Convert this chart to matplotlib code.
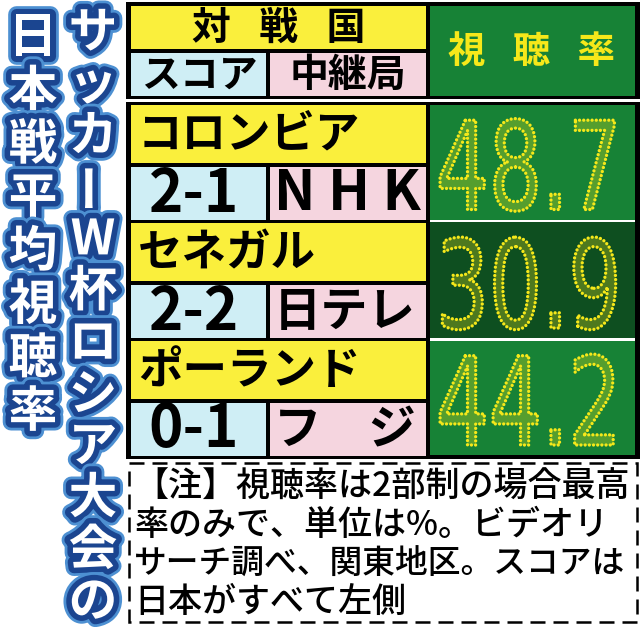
import matplotlib
matplotlib.use('Agg')
import matplotlib.pyplot as plt
from matplotlib.patches import Rectangle
from matplotlib import patheffects as pe
from matplotlib.patheffects import AbstractPathEffect
from matplotlib.transforms import Affine2D

# ---------------- data ----------------
title_main = "日本戦平均視聴率"
title_sub = "サッカーW杯ロシア大会の"
header_opponent = "対戦国"
header_score = "スコア"
header_station = "中継局"
header_rating = "視聴率"
opponents = ["コロンビア", "セネガル", "ポーランド"]
scores = ["2-1", "2-2", "0-1"]
stations = ["N H K", "日テレ", "フ\u3000ジ"]
ratings = [48.7, 30.9, 44.2]
note_lines = ["【注】視聴率は2部制の場合最高",
              "率のみで、単位は%。ビデオリ",
              "サーチ調べ、関東地区。スコアは",
              "日本がすべて左側"]

# ---------------- style ----------------
CJK = ['Noto Sans CJK JP', 'DejaVu Sans']
YELLOW = '#faef3c'
CYAN = '#cfeef5'
PINK = '#f5d5df'
GREEN = '#178236'
GREEN_DARK = '#0e4f20'
RATE_GREENS = [GREEN, GREEN_DARK, GREEN]
TXT_YELLOW = '#f6e81a'


class DotMatrix(AbstractPathEffect):
    """Draw glyph outlines as rows of dots (LED-board look)."""
    def __init__(self, sx=1.0, sy=1.0, color=TXT_YELLOW, lw=2.4, gap=3.0,
                 fill_alpha=0.28):
        super().__init__()
        self.sx, self.sy = sx, sy
        self.color, self.lw, self.gap = color, lw, gap
        self.fill_alpha = fill_alpha

    def draw_path(self, renderer, gc, tpath, affine, rgbFace=None):
        trans = Affine2D().scale(self.sx, self.sy) + affine
        rgb = matplotlib.colors.to_rgba(self.color)
        gcf = renderer.new_gc()
        gcf.copy_properties(gc)
        gcf.set_linewidth(0)
        gcf.set_alpha(self.fill_alpha)
        renderer.draw_path(gcf, tpath, trans,
                           (rgb[0], rgb[1], rgb[2], self.fill_alpha))
        gcf.restore()
        gc0 = renderer.new_gc()
        gc0.copy_properties(gc)
        gc0.set_alpha(1.0)
        gc0.set_foreground(self.color)
        gc0.set_linewidth(self.lw)
        gc0.set_dashes(0, [0.01, self.gap])
        gc0.set_capstyle('round')
        gc0.set_joinstyle('round')
        renderer.draw_path(gc0, tpath, trans, None)
        gc0.restore()


fig = plt.figure(figsize=(6.4, 6.27), dpi=100)
ax = fig.add_axes([0, 0, 1, 1])
ax.set_xlim(0, 640)
ax.set_ylim(627, 0)
ax.axis('off')


def rect(x0, y0, x1, y1, fc, **kw):
    ax.add_patch(Rectangle((x0, y0), x1 - x0, y1 - y0, facecolor=fc,
                           edgecolor='none', **kw))


# ---------------- title (vertical) ----------------
title_fx = [pe.Stroke(linewidth=12, foreground='#4d90d2', joinstyle='round'),
            pe.Stroke(linewidth=8, foreground='#1b4590', joinstyle='round'),
            pe.Normal()]


def vertical(text, xc, y_first, y_last, size):
    n = len(text)
    step = (y_last - y_first) / (n - 1)
    for i, ch in enumerate(text):
        rot = 90 if ch == 'ー' else 0
        ax.text(xc, y_first + i * step, ch, family=CJK, fontsize=size,
                fontweight='bold', color='white', ha='center', va='center',
                rotation=rot, path_effects=title_fx)


vertical(title_main, 33, 38, 412, 35)
vertical(title_sub, 93, 33, 602, 35)

# ---------------- table frames ----------------
rect(126, 2, 640, 98.5, 'black')
rect(126, 101.5, 640, 459, 'black')

# header cells
rect(131, 6, 426, 49, YELLOW)
rect(131, 53, 266, 96, CYAN)
rect(270, 53, 426, 96, PINK)
rect(430, 6, 635, 96, GREEN)

sp = "\u2002 "
ax.text(279, 28, sp.join(header_opponent), family=CJK, fontsize=28,
        fontweight='bold', ha='center', va='center', color='black')
ax.text(199, 75, header_score, family=CJK, fontsize=28, fontweight='bold',
        ha='center', va='center', color='black')
ax.text(348, 75, header_station, family=CJK, fontsize=28, fontweight='bold',
        ha='center', va='center', color='black')
ax.text(532, 51, sp.join(header_rating), family=CJK, fontsize=27,
        fontweight='bold', ha='center', va='center', color=TXT_YELLOW)

# body rows
name_tops = [105, 223, 341]
row_h = 58
score_h = 53
for i in range(len(opponents)):
    t = name_tops[i]
    rect(131, t, 426, t + row_h, YELLOW)
    s0 = t + row_h + 4
    rect(131, s0, 266, s0 + score_h, CYAN)
    rect(270, s0, 426, s0 + score_h, PINK)
    ax.text(138, t + row_h / 2 + 1, opponents[i], family=CJK, fontsize=32,
            fontweight='bold', ha='left', va='center', color='black')
    ax.text(194, s0 + score_h / 2 + 1, scores[i], family=CJK, fontsize=42,
            fontweight='bold', ha='center', va='center', color='black')
    ax.text(274, s0 + score_h / 2 + 1, stations[i], family=CJK,
            fontsize=40 if i == 0 else 34, fontweight='bold', ha='left',
            va='center', color='black')

# rating cells
rate_bounds = [(105, 219.5), (222, 338), (340.5, 455)]
rect(430, 105, 635, 455, 'white')
for i, v in enumerate(ratings):
    y0, y1 = rate_bounds[i]
    rect(430, y0, 635, y1, RATE_GREENS[i])
    ax.text(436, y1 - 10, f"{v:.1f}", family='DejaVu Sans', fontsize=60,
            ha='left', va='baseline', color=TXT_YELLOW,
            path_effects=[DotMatrix(sx=1.0, sy=1.47, lw=2.4, gap=3.0)])

# ---------------- note box ----------------
ax.add_patch(Rectangle((129, 463), 637 - 129, 622 - 463, facecolor='white',
                       edgecolor='black', linewidth=1.8,
                       linestyle=(0, (6, 3.2))))
note_y = [487, 525, 564, 602]
note_sizes = [24.5, 24.5, 23.6, 24.5]
for yy, fs, line in zip(note_y, note_sizes, note_lines):
    ax.text(134, yy, line, family=CJK, fontsize=fs, fontweight='medium',
            ha='left', va='center', color='black')

fig.savefig('out.png', dpi=100, facecolor='white')
